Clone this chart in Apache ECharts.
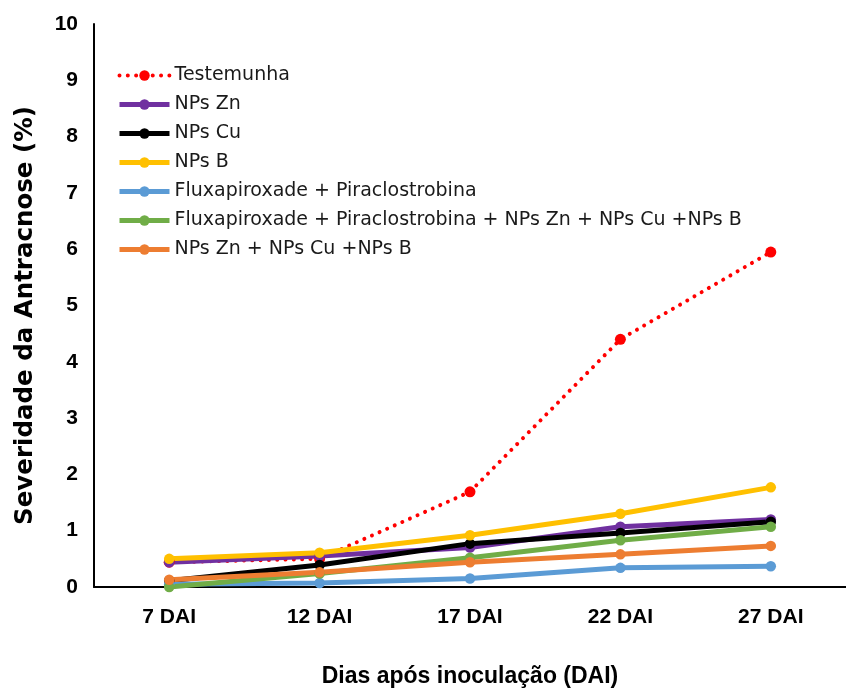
<!DOCTYPE html>
<html>
<head>
<meta charset="utf-8">
<script src="https://cdn.jsdelivr.net/npm/echarts@6/dist/echarts.min.js"></script>
<style>
html,body{margin:0;padding:0;background:#fff;}
#chart{width:846px;height:696px;}
</style>
</head>
<body>
<div id="chart"></div>
<script>
const categories = ['7 DAI', '12 DAI', '17 DAI', '22 DAI', '27 DAI'];
const seriesNames = [
  'Testemunha',
  'NPs Zn',
  'NPs Cu',
  'NPs B',
  'Fluxapiroxade + Piraclostrobina',
  'Fluxapiroxade + Piraclostrobina + NPs Zn + NPs Cu +NPs B',
  'NPs Zn + NPs Cu +NPs B'
];
const testemunha = [0.44, 0.50, 1.69, 4.40, 5.95];
const npsZn = [0.44, 0.55, 0.70, 1.07, 1.20];
const npsCu = [0.11, 0.39, 0.77, 0.96, 1.16];
const npsB = [0.50, 0.61, 0.92, 1.30, 1.77];
const flux = [0.05, 0.07, 0.15, 0.34, 0.37];
const fluxMix = [0.00, 0.24, 0.52, 0.83, 1.07];
const npsMix = [0.13, 0.26, 0.44, 0.58, 0.73];
const yTicks = { min: 0, max: 10, interval: 1 };
const colors = ['#FF0000', '#7030A0', '#000000', '#FFC000', '#5B9BD5', '#70AD47', '#ED7D31'];
const valueSets = [testemunha, npsZn, npsCu, npsB, flux, fluxMix, npsMix];

const tickFont = "'Liberation Sans', Arial, sans-serif";

const series = seriesNames.map((name, i) => {
  const isCtrl = i === 0;
  return {
    name: name,
    type: 'line',
    data: valueSets[i],
    symbol: 'circle',
    symbolSize: isCtrl ? 11 : 10.5,
    showSymbol: true,
    color: colors[i],
    itemStyle: { color: colors[i] },
    lineStyle: isCtrl
      ? { color: colors[i], width: 4, type: [0.01, 8.3], cap: 'round' }
      : { color: colors[i], width: 5 },
    emphasis: { disabled: true },
    animation: false
  };
});

const legendData = seriesNames.map((name, i) => ({
  name: name,
  lineStyle: i === 0
    ? { width: 4, type: [0.01, 8.3], cap: 'round', color: colors[i] }
    : { width: 5, color: colors[i] }
}));

const chart = echarts.init(document.getElementById('chart'), null, { renderer: 'canvas' });
chart.setOption({
  animation: false,
  backgroundColor: '#ffffff',
  grid: { left: 94, right: -9, top: 24, bottom: 109, containLabel: false },
  legend: {
    orient: 'vertical',
    left: 117,
    top: 66,
    padding: 0,
    itemWidth: 50,
    itemHeight: 13,
    itemGap: 10,
    lineStyle: { width: 5 },
    textStyle: { fontFamily: "'DejaVu Sans', sans-serif", fontSize: 19, color: '#1a1a1a', lineHeight: 19 },
    data: legendData
  },
  xAxis: {
    type: 'category',
    data: categories,
    boundaryGap: true,
    axisLine: { show: true, lineStyle: { color: '#000', width: 2 } },
    axisTick: { show: false },
    axisLabel: { margin: 20, fontFamily: tickFont, fontWeight: 'bold', fontSize: 21, color: '#000' },
    name: 'Dias após inoculação (DAI)',
    nameLocation: 'middle',
    nameGap: 78,
    nameTextStyle: { fontFamily: tickFont, fontWeight: 'bold', fontSize: 23, color: '#000' }
  },
  yAxis: {
    type: 'value',
    min: yTicks.min,
    max: yTicks.max,
    interval: yTicks.interval,
    axisLine: { show: true, lineStyle: { color: '#000', width: 2 } },
    axisTick: { show: false },
    splitLine: { show: false },
    axisLabel: { margin: 16, fontFamily: tickFont, fontWeight: 'bold', fontSize: 21, color: '#000' },
    name: 'Severidade da Antracnose (%)',
    nameLocation: 'middle',
    nameGap: 56,
    nameRotate: 90,
    nameTextStyle: { fontFamily: "'DejaVu Sans', sans-serif", fontWeight: 'bold', fontSize: 24.5, color: '#000', padding: [0, 20, 0, 0] }
  },
  series: series
});
</script>
</body>
</html>
